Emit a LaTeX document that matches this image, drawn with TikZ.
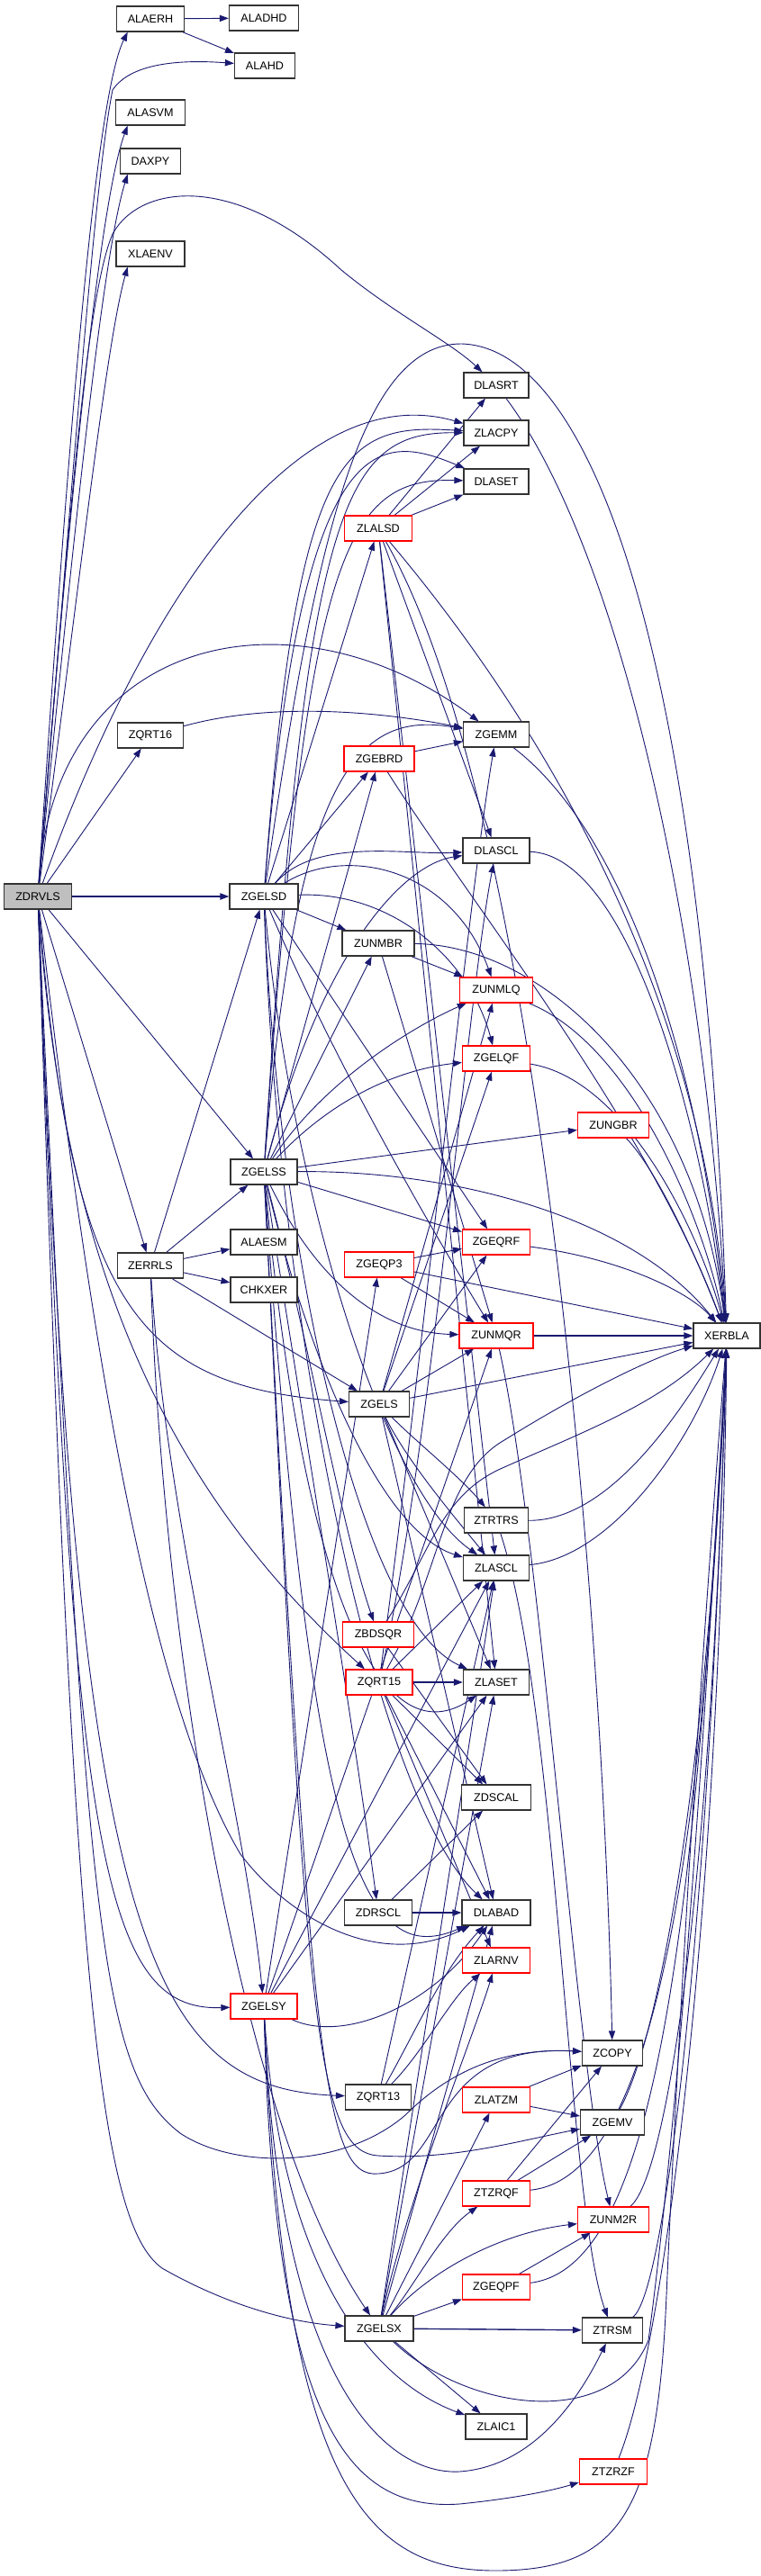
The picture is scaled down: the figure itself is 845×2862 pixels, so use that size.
\documentclass[tikz,border=0pt]{standalone}
\usepackage{fontspec}
\setmainfont{Liberation Sans}
\usetikzlibrary{arrows.meta}
\pgfdeclarelayer{bg}
\pgfsetlayers{bg,main}
\definecolor{edgec}{HTML}{191970}
\definecolor{redb}{HTML}{FF0000}
\definecolor{grayf}{HTML}{BFBFBF}
\definecolor{boxb}{HTML}{333333}
\begin{document}
\begin{tikzpicture}[x=0.5pt,y=-0.5pt,
  nb/.style={draw=boxb, line width=0.6pt, fill=white, inner sep=0pt, minimum height=14pt, font=\fontsize{6.3}{7}\selectfont},
  nr/.style={nb, draw=redb},
  wd/.style={minimum width={#1*0.5pt}},
  e/.style={draw=edgec, line width=0.45pt, -{Triangle[length=5pt,width=3.6pt]}}]
\useasboundingbox (0,0) rectangle (845,2862);
\node[nb,wd=75] (alaerh) at (167,21) {ALAERH};
\node[nb,wd=77] (aladhd) at (293,20) {ALADHD};
\node[nb,wd=67] (alahd) at (294,73) {ALAHD};
\node[nb,wd=77] (alasvm) at (167,125) {ALASVM};
\node[nb,wd=67] (daxpy) at (167,179) {DAXPY};
\node[nb,wd=76] (xlaenv) at (167,282) {XLAENV};
\node[nb,wd=72] (dlasrt) at (551,428) {DLASRT};
\node[nb,wd=72] (zlacpy) at (551,481) {ZLACPY};
\node[nb,wd=72] (dlaset) at (551,535) {DLASET};
\node[nr,wd=75] (zlalsd) at (420,587) {ZLALSD};
\node[nb,wd=73] (zqrt16) at (167,817) {ZQRT16};
\node[nb,wd=73] (zgemm) at (551,816) {ZGEMM};
\node[nr,wd=78] (zgebrd) at (421,843) {ZGEBRD};
\node[nb,wd=74] (dlascl) at (551,945) {DLASCL};
\node[nb,wd=75,fill=grayf] (zdrvls) at (42,996) {ZDRVLS};
\node[nb,wd=76] (zgelsd) at (293,996) {ZGELSD};
\node[nb,wd=80] (zunmbr) at (420,1048) {ZUNMBR};
\node[nr,wd=81] (zunmlq) at (551,1100) {ZUNMLQ};
\node[nr,wd=75] (zgelqf) at (551,1176) {ZGELQF};
\node[nr,wd=79] (zungbr) at (681,1250) {ZUNGBR};
\node[nb,wd=74] (zgelss) at (293,1302) {ZGELSS};
\node[nb,wd=74] (alaesm) at (293,1380) {ALAESM};
\node[nb,wd=73] (zerrls) at (167,1406) {ZERRLS};
\node[nr,wd=75] (zgeqrf) at (551,1380) {ZGEQRF};
\node[nr,wd=77] (zgeqp3) at (421,1405) {ZGEQP3};
\node[nb,wd=74] (chkxer) at (293,1433) {CHKXER};
\node[nr,wd=82] (zunmqr) at (551,1484) {ZUNMQR};
\node[nb,wd=74] (xerbla) at (807,1484) {XERBLA};
\node[nb,wd=67] (zgels) at (421,1560) {ZGELS};
\node[nb,wd=71] (ztrtrs) at (551,1689) {ZTRTRS};
\node[nb,wd=73] (zlascl) at (551,1742) {ZLASCL};
\node[nr,wd=79] (zbdsqr) at (420,1816) {ZBDSQR};
\node[nr,wd=74] (zqrt15) at (421,1869) {ZQRT15};
\node[nb,wd=73] (zlaset) at (551,1869) {ZLASET};
\node[nb,wd=77] (zdscal) at (551,1997) {ZDSCAL};
\node[nb,wd=75] (zdrscl) at (420,2125) {ZDRSCL};
\node[nb,wd=76] (dlabad) at (551,2125) {DLABAD};
\node[nr,wd=75] (zlarnv) at (551,2178) {ZLARNV};
\node[nr,wd=74] (zgelsy) at (293,2229) {ZGELSY};
\node[nb,wd=67] (zcopy) at (680,2281) {ZCOPY};
\node[nb,wd=73] (zqrt13) at (420,2330) {ZQRT13};
\node[nr,wd=75] (zlatzm) at (551,2333) {ZLATZM};
\node[nb,wd=71] (zgemv) at (680,2358) {ZGEMV};
\node[nr,wd=75] (ztzrqf) at (551,2437) {ZTZRQF};
\node[nr,wd=79] (zunm2r) at (681,2466) {ZUNM2R};
\node[nr,wd=75] (zgeqpf) at (551,2541) {ZGEQPF};
\node[nb,wd=76] (zgelsx) at (421,2587) {ZGELSX};
\node[nb,wd=67] (ztrsm) at (680,2589) {ZTRSM};
\node[nb,wd=68] (zlaic1) at (551,2696) {ZLAIC1};
\node[nr,wd=75] (ztzrzf) at (681,2746) {ZTZRZF};
\begin{pgfonlayer}{bg}
% ALAERH
\draw[e] (alaerh) -- (aladhd);
\draw[e] (alaerh) -- (alahd);
% ZDRVLS
\draw[e] (zdrvls) .. controls (75,500) and (105,110) .. (alaerh.-150);
\draw[e] (zdrvls) .. controls (82,520) and (105,200) .. (125,100) .. controls (145,70) and (200,66) .. (alahd);
\draw[e] (zdrvls) .. controls (80,520) and (112,220) .. (alasvm.-150);
\draw[e] (zdrvls) .. controls (85,560) and (115,280) .. (daxpy.-150);
\draw[e] (zdrvls) .. controls (88,650) and (118,380) .. (xlaenv.-150);
\draw[e] (zdrvls) .. controls (75,600) and (95,330) .. (125,260) .. controls (155,205) and (260,190) .. (379,300) .. controls (440,350) and (500,380) .. (dlasrt);
\draw[e] (zdrvls) .. controls (170,640) and (340,420) .. (zlacpy);
\draw[e] (zdrvls) -- (zqrt16);
\draw[e] (zdrvls) .. controls (60,700) and (330,650) .. (zgemm);
\draw[e,line width=0.7pt] (zdrvls) -- (zgelsd);
\draw[e] (zdrvls) -- (zgelss);
\draw[e] (zdrvls) -- (zerrls);
\draw[e] (zdrvls) .. controls (80,1450) and (150,1540) .. (zgels);
\draw[e] (zdrvls) .. controls (70,1400) and (180,1650) .. (zqrt15);
\draw[e] (zdrvls) .. controls (95,1450) and (160,1880) .. (267,2060) .. controls (320,2130) and (420,2190) .. (dlabad);
\draw[e] (zdrvls) .. controls (80,2050) and (110,2235) .. (zgelsy);
\draw[e] (zdrvls) .. controls (85,2150) and (160,2320) .. (zqrt13);
\draw[e] (zdrvls) .. controls (95,2150) and (110,2300) .. (200,2370) .. controls (260,2410) and (380,2410) .. (450,2350) .. controls (500,2300) and (560,2275) .. (zcopy);
\draw[e] (zdrvls) .. controls (80,2200) and (110,2470) .. (180,2520) .. controls (250,2560) and (320,2580) .. (zgelsx);
% ZQRT16
\draw[e] (zqrt16) .. controls (300,780) and (420,790) .. (zgemm);
% ZERRLS
\draw[e] (zerrls) -- (alaesm);
\draw[e] (zerrls) -- (chkxer);
\draw[e] (zerrls) -- (zgelss);
\draw[e] (zerrls) -- (zgelsd);
\draw[e] (zerrls) -- (zgels);
\draw[e] (zerrls) .. controls (185,1700) and (270,2000) .. (zgelsy);
\draw[e] (zerrls) .. controls (180,1800) and (260,2350) .. (zgelsx);
% ZGELSD
\draw[e] (zgelsd) .. controls (350,600) and (400,382) .. (512,382) .. controls (650,385) and (780,700) .. (xerbla);
\draw[e] (zgelsd) .. controls (330,500) and (380,470) .. (zlacpy);
\draw[e] (zgelsd) .. controls (335,470) and (420,480) .. (dlaset);
\draw[e] (zgelsd) -- (zlalsd);
\draw[e] (zgelsd) -- (zgebrd);
\draw[e] (zgelsd) -- (zunmbr);
\draw[e] (zgelsd) .. controls (380,940) and (500,960) .. (zunmlq);
\draw[e] (zgelsd) .. controls (430,990) and (520,1060) .. (zgelqf);
\draw[e] (zgelsd) -- (zgeqrf);
\draw[e] (zgelsd) .. controls (350,930) and (450,950) .. (dlascl);
\draw[e] (zgelsd) .. controls (380,1200) and (500,1400) .. (zunmqr);
\draw[e] (zgelsd) .. controls (320,1300) and (420,1650) .. (zlascl);
\draw[e] (zgelsd) .. controls (310,1400) and (400,1800) .. (zlaset);
\draw[e] (zgelsd) .. controls (310,1500) and (420,2000) .. (dlabad);
% ZGELSS
\draw[e] (zgelss) .. controls (340,560) and (380,480) .. (zlacpy);
\draw[e] (zgelss) .. controls (340,620) and (380,530) .. (dlaset);
\draw[e] (zgelss) .. controls (330,850) and (400,790) .. (zgemm);
\draw[e] (zgelss) -- (zgebrd);
\draw[e] (zgelss) -- (zunmbr);
\draw[e] (zgelss) .. controls (360,1200) and (460,1140) .. (zunmlq);
\draw[e] (zgelss) .. controls (360,1230) and (430,1190) .. (zgelqf);
\draw[e] (zgelss) .. controls (360,1050) and (450,960) .. (dlascl);
\draw[e] (zgelss) -- (zungbr);
\draw[e] (zgelss) .. controls (500,1300) and (700,1350) .. (xerbla);
\draw[e] (zgelss) -- (zgeqrf);
\draw[e] (zgelss) .. controls (350,1420) and (420,1480) .. (zunmqr);
\draw[e] (zgelss) .. controls (340,1500) and (420,1700) .. (zlascl);
\draw[e] (zgelss) .. controls (340,1800) and (430,1950) .. (zlaset);
\draw[e] (zgelss) .. controls (345,2050) and (400,2190) .. (dlabad);
\draw[e] (zgelss) .. controls (345,1500) and (380,1700) .. (zbdsqr);
\draw[e] (zgelss) .. controls (340,1600) and (390,1900) .. (zdrscl);
\draw[e] (zgelss) .. controls (345,2300) and (360,2420) .. (420,2415) .. controls (500,2410) and (470,2270) .. (zcopy);
\draw[e] (zgelss) .. controls (340,2250) and (350,2390) .. (420,2395) .. controls (500,2400) and (570,2380) .. (zgemv);
% ZLALSD
\draw[e] (zlalsd) -- (dlasrt);
\draw[e] (zlalsd) -- (zlacpy);
\draw[e] (zlalsd) -- (dlaset);
\draw[e] (zlalsd) -- (dlascl);
\draw[e] (zlalsd) -- (zlascl);
\draw[e] (zlalsd) -- (zlaset);
\draw[e] (zlalsd) .. controls (600,900) and (670,1800) .. (zcopy);
\draw[e] (zlalsd) .. controls (600,800) and (780,1100) .. (xerbla);
% ZGEBRD
\draw[e] (zgebrd) -- (zgemm);
\draw[e] (zgebrd) .. controls (520,1000) and (720,1250) .. (xerbla);
% misc to XERBLA
\draw[e] (dlasrt) .. controls (680,600) and (780,1000) .. (xerbla);
\draw[e] (zgemm) .. controls (700,930) and (780,1200) .. (xerbla);
\draw[e] (dlascl) .. controls (700,950) and (780,1250) .. (xerbla);
% ZUNMBR
\draw[e] (zunmbr) -- (zunmlq);
\draw[e] (zunmbr) -- (zunmqr);
\draw[e] (zunmbr) .. controls (600,1050) and (770,1200) .. (xerbla);
\draw[e] (zunmlq) .. controls (700,1160) and (780,1350) .. (xerbla);
\draw[e] (zgelqf) .. controls (700,1200) and (780,1380) .. (xerbla);
\draw[e] (zungbr) .. controls (730,1300) and (775,1400) .. (xerbla);
\draw[e] (zgeqrf) .. controls (700,1400) and (770,1440) .. (xerbla);
\draw[e] (zgeqp3) -- (zgeqrf);
\draw[e] (zgeqp3) -- (xerbla);
\draw[e] (zgeqp3) -- (zunmqr);
\draw[e,line width=0.7pt] (zunmqr) -- (xerbla);
\draw[e] (zunmqr) .. controls (600,1700) and (640,2300) .. (zunm2r);
% ZGELS
\draw[e] (zgels) -- (zgelqf);
\draw[e] (zgels) -- (zgeqrf);
\draw[e] (zgels) -- (zunmlq);
\draw[e] (zgels) -- (zunmqr);
\draw[e] (zgels) -- (xerbla);
\draw[e] (zgels) .. controls (460,1600) and (510,1640) .. (ztrtrs);
\draw[e] (zgels) .. controls (450,1620) and (500,1680) .. (zlascl);
\draw[e] (zgels) -- (zlaset);
\draw[e] (zgels) -- (dlabad);
\draw[e] (ztrtrs) .. controls (680,1690) and (760,1560) .. (xerbla);
\draw[e] (ztrtrs) .. controls (620,1900) and (630,2450) .. (ztrsm);
\draw[e] (zlascl) .. controls (680,1730) and (770,1600) .. (xerbla);
% ZBDSQR
\draw[e] (zbdsqr) .. controls (480,1720) and (490,1660) .. (560,1630) .. controls (650,1590) and (730,1560) .. (xerbla);
\draw[e] (zbdsqr) -- (zdscal);
% ZQRT15
\draw[e,line width=0.7pt] (zqrt15) -- (zlaset);
\draw[e] (zqrt15) -- (zlascl);
\draw[e] (zqrt15) .. controls (470,1500) and (520,1000) .. (zgemm);
\draw[e] (zqrt15) .. controls (480,1600) and (520,1100) .. (dlascl);
\draw[e] (zqrt15) .. controls (490,1750) and (490,1640) .. (560,1600) .. controls (640,1550) and (720,1510) .. (xerbla);
\draw[e] (zqrt15) -- (zdscal);
\draw[e] (zqrt15) -- (dlabad);
\draw[e] (zqrt15) -- (zlarnv);
% ZDRSCL
\draw[e,line width=0.7pt] (zdrscl) -- (dlabad);
\draw[e] (zdrscl) -- (zdscal);
% ZQRT13
\draw[e] (zqrt13) .. controls (470,2280) and (500,2220) .. (zlarnv);
\draw[e] (zqrt13) .. controls (460,2260) and (490,2190) .. (dlabad);
\draw[e] (zqrt13) -- (zlascl);
% ZGELSY
\draw[e] (zgelsy) -- (zgeqp3);
\draw[e] (zgelsy) -- (zunmqr);
\draw[e] (zgelsy) -- (zlascl);
\draw[e] (zgelsy) -- (zlaset);
\draw[e] (zgelsy) .. controls (380,2270) and (480,2230) .. (dlabad);
\draw[e] (zgelsy) .. controls (310,2500) and (400,2640) .. (zlaic1);
\draw[e] (zgelsy) .. controls (310,2650) and (430,2750) .. (510,2746) .. controls (600,2740) and (650,2650) .. (ztrsm);
\draw[e] (zgelsy) .. controls (305,2700) and (390,2790) .. (510,2782) .. controls (580,2775) and (620,2765) .. (ztzrzf);
\draw[e] (zgelsy) .. controls (315,2750) and (400,2856) .. (550,2856) .. controls (690,2856) and (730,2790) .. (740,2550) .. controls (760,2100) and (790,1700) .. (xerbla);
% ZLATZM etc.
\draw[e] (zlatzm) -- (zcopy);
\draw[e] (zlatzm) -- (zgemv);
\draw[e] (zgemv) .. controls (740,2250) and (790,1900) .. (xerbla);
\draw[e] (ztzrqf) -- (zcopy);
\draw[e] (ztzrqf) -- (zgemv);
\draw[e] (ztzrqf) .. controls (720,2420) and (780,2100) .. (xerbla);
\draw[e] (zunm2r) .. controls (740,2420) and (790,2100) .. (xerbla);
\draw[e] (zgeqpf) -- (zunm2r);
\draw[e] (zgeqpf) .. controls (720,2520) and (770,2200) .. (xerbla);
\draw[e] (ztrsm) .. controls (740,2550) and (790,2100) .. (xerbla);
\draw[e] (ztzrzf) .. controls (740,2600) and (800,2100) .. (xerbla);
% ZGELSX
\draw[e] (zgelsx) -- (zgeqpf);
\draw[e,line width=0.7pt] (zgelsx) -- (ztrsm);
\draw[e] (zgelsx) -- (zlaic1);
\draw[e] (zgelsx) -- (zlatzm);
\draw[e] (zgelsx) .. controls (450,2450) and (530,2250) .. (zlarnv);
\draw[e] (zgelsx) .. controls (460,2540) and (490,2480) .. (ztzrqf);
\draw[e] (zgelsx) .. controls (480,2520) and (560,2480) .. (zunm2r);
\draw[e] (zgelsx) -- (zlascl);
\draw[e] (zgelsx) -- (zlaset);
\draw[e] (zgelsx) -- (dlabad);
\draw[e] (zgelsx) .. controls (520,2680) and (680,2700) .. (720,2600) .. controls (760,2300) and (790,1800) .. (xerbla);
\end{pgfonlayer}
\end{tikzpicture}
\end{document}
